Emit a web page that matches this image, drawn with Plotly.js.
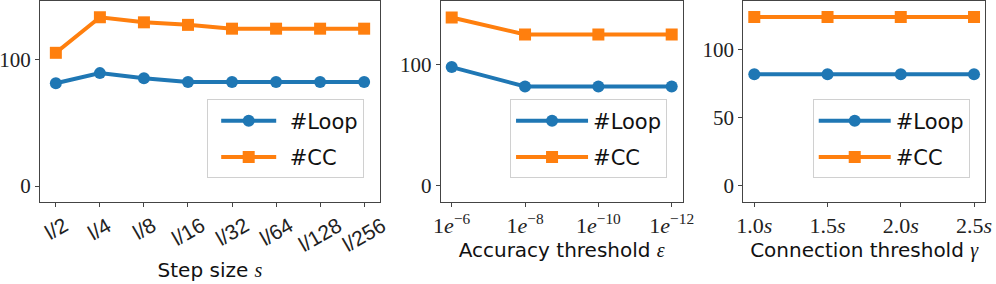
<!DOCTYPE html>
<html>
<head>
<meta charset="utf-8">
<script src="https://cdn.plot.ly/plotly-3.0.1.min.js"></script>
<style>html,body{margin:0;padding:0;background:#fff;}#chart{width:996px;height:284px;}</style>
</head>
<body>
<div id="chart"></div>
<script>
// Panel 1: step size
const stepLabels = ["l/2", "l/4", "l/8", "l/16", "l/32", "l/64", "l/128", "l/256"];
const stepLoop = [81, 89, 85, 82, 82, 82, 82, 82];
const stepCC = [105, 133, 129, 127, 124, 124, 124, 124];

// Panel 2: accuracy threshold
const accLabels = ["1<i>e</i><sup>−6</sup>", "1<i>e</i><sup>−8</sup>", "1<i>e</i><sup>−10</sup>", "1<i>e</i><sup>−12</sup>"];
const accLoop = [98, 82, 82, 82];
const accCC = [139, 125, 125, 125];

// Panel 3: connection threshold
const connVals = [1.0, 1.5, 2.0, 2.5];
const connLabels = ["1.0<i>s</i>", "1.5<i>s</i>", "2.0<i>s</i>", "2.5<i>s</i>"];
const connLoop = [82, 82, 82, 82];
const connCC = [124, 124, 124, 124];

const seriesNames = ["#Loop", "#CC"];
const BLUE = "#1f77b4", ORANGE = "#ff7f0e";
const SERIF = "Liberation Serif";
const SANS = "DejaVu Sans";

function mk(x, y, i, xa, ya, leg) {
  return {
    x: x, y: y, type: "scatter", mode: "lines+markers",
    name: seriesNames[i], xaxis: xa, yaxis: ya, legend: leg,
    legendgroup: leg + "_" + i,
    line: {color: i === 0 ? BLUE : ORANGE, width: 4},
    marker: {symbol: i === 0 ? "circle" : "square", size: 12, color: i === 0 ? BLUE : ORANGE}
  };
}

const idx = stepLabels.map((_, i) => i);
const accIdx = accLabels.map((_, i) => i);

const data = [
  mk(idx, stepLoop, 0, "x", "y", "legend"),
  mk(idx, stepCC, 1, "x", "y", "legend"),
  mk(accIdx, accLoop, 0, "x2", "y2", "legend2"),
  mk(accIdx, accCC, 1, "x2", "y2", "legend2"),
  mk(connVals, connLoop, 0, "x3", "y3", "legend3"),
  mk(connVals, connCC, 1, "x3", "y3", "legend3")
];

const ax = {
  showline: true, mirror: true, linecolor: "#444", linewidth: 1,
  ticks: "outside", ticklen: 4, tickcolor: "#444", tickwidth: 1,
  showgrid: false, zeroline: false,
  tickfont: {family: SERIF, size: 22, color: "#222"}
};
const yTickFont = {family: SERIF, size: 21, color: "#222"};
const mathS = '<span style="font-family:Liberation Serif"><i>s</i></span>';
const titleFont = {family: SANS, size: 20, color: "#111"};
const legendBase = {
  bgcolor: "rgba(255,255,255,0.8)", bordercolor: "#d0d0d0", borderwidth: 1,
  font: {family: SANS, size: 21, color: "#111"},
  xanchor: "left", yanchor: "top", y: 0.51, itemwidth: 72,
  traceorder: "grouped", tracegroupgap: 6
};

// Step-size tick labels drawn as rotated, centred texts under each category tick
const stepAnn = stepLabels.map((t, i) => ({
  text: t, x: idx[i], xref: "x", y: 0, yref: "y domain",
  xanchor: "center", yanchor: "top", yshift: -8, textangle: -30,
  showarrow: false, font: {family: "Liberation Sans", size: 21, color: "#222"}
}));

const layout = {
  width: 996, height: 284,
  margin: {l: 40, r: 11, t: 1, b: 82},
  paper_bgcolor: "#fff", plot_bgcolor: "#fff",
  showlegend: true,
  annotations: stepAnn,
  xaxis: Object.assign({}, ax, {
    domain: [0, 0.35979], anchor: "y", range: [-0.36, 7.36],
    tickvals: idx, showticklabels: false,
    title: {text: "Step size " + mathS, font: titleFont, standoff: 56}
  }),
  yaxis: Object.assign({}, ax, {domain: [0, 1], anchor: "x", range: [-12.5, 145.8], tickvals: [0, 100], tickfont: yTickFont}),
  xaxis2: Object.assign({}, ax, {
    domain: [0.42402, 0.68011], anchor: "y2", range: [-0.15, 3.15],
    tickvals: accIdx, ticktext: accLabels,
    title: {text: 'Accuracy threshold <span style="font-family:Liberation Serif"><i>ε</i></span>', font: titleFont, standoff: 0}
  }),
  yaxis2: Object.assign({}, ax, {domain: [0, 1], anchor: "x2", range: [-13.4, 152.6], tickvals: [0, 100], tickfont: yTickFont}),
  xaxis3: Object.assign({}, ax, {
    domain: [0.74423, 1], anchor: "y3", range: [0.925, 2.575],
    tickvals: connVals, ticktext: connLabels,
    title: {text: 'Connection threshold <span style="font-family:Liberation Serif"><i>γ</i></span>', font: titleFont, standoff: 0}
  }),
  yaxis3: Object.assign({}, ax, {domain: [0, 1], anchor: "x3", range: [-11.9, 135.8], tickvals: [0, 50, 100], tickfont: yTickFont}),
  legend: Object.assign({}, legendBase, {x: 0.1764}),
  legend2: Object.assign({}, legendBase, {x: 0.4974}),
  legend3: Object.assign({}, legendBase, {x: 0.8177})
};

Plotly.newPlot("chart", data, layout, {staticPlot: true, displayModeBar: false}).then(function (gd) {
  // centre a 55px legend line sample on each legend marker, as in the reference
  gd.querySelectorAll(".legend .traces").forEach(function (g) {
    var pt = g.querySelector(".legendpoints path.scatterpts");
    var ln = g.querySelector(".legendlines path");
    if (!pt || !ln) return;
    var m = /translate\(([-\d.]+)/.exec(pt.getAttribute("transform") || "");
    var cx = m ? parseFloat(m[1]) : 20;
    ln.setAttribute("d", "M" + (cx - 27.5) + ",0h55");
  });
});
</script>
</body>
</html>
